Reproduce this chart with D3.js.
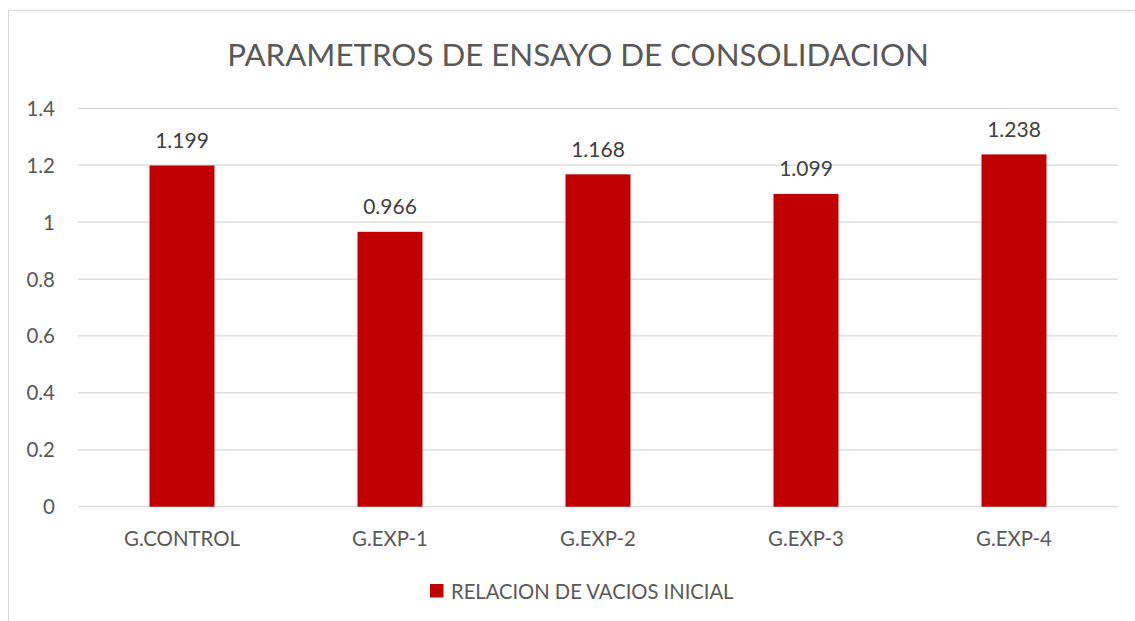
<!DOCTYPE html>
<html>
<head>
<meta charset="utf-8">
<script src="https://cdn.jsdelivr.net/npm/d3@7"></script>
<style>
  body { margin: 0; background: #fff; }
  text { font-family: Lato, "Open Sans", sans-serif; }
</style>
</head>
<body>
<svg id="chart" width="1135" height="621"></svg>
<script>
let categories = ['G.CONTROL', 'G.EXP-1', 'G.EXP-2', 'G.EXP-3', 'G.EXP-4'];
let values = [1.199, 0.966, 1.168, 1.099, 1.238];
let valueLabels = ['1.199', '0.966', '1.168', '1.099', '1.238'];
let yTicks = [0, 0.2, 0.4, 0.6, 0.8, 1, 1.2, 1.4];
let title = 'PARAMETROS DE ENSAYO DE CONSOLIDACION';
let seriesName = 'RELACION DE VACIOS INICIAL';

let svg = d3.select('#chart');
let plotLeft = 78, plotRight = 1118, plotTop = 108.3, plotBottom = 506.7;

// chart frame (runs off the right and bottom of the picture)
svg.append('rect').attr('x', 8.5).attr('y', 10.5).attr('width', 1140).attr('height', 630)
  .style('fill', '#fff').style('stroke', '#d9d9d9');

let x = d3.scaleBand().domain(categories).range([plotLeft, plotRight]).paddingInner(0.6875).paddingOuter(0.34375);
let y = d3.scaleLinear().domain([0, 1.4]).range([plotBottom, plotTop]);

// gridlines
svg.append('g').selectAll('line').data(yTicks).join('line')
  .attr('x1', plotLeft).attr('x2', plotRight)
  .attr('y1', d => y(d)).attr('y2', d => y(d))
  .style('stroke', '#d9d9d9').style('stroke-width', 1.3);

// y tick labels
svg.append('g').selectAll('text').data(yTicks).join('text')
  .attr('x', 55).attr('y', d => y(d) + 7.5)
  .attr('text-anchor', 'end')
  .style('font-size', '20.5px').style('fill', '#595959')
  .text(d => d);

// bars
svg.append('g').selectAll('rect').data(values).join('rect')
  .attr('x', (d, i) => x(categories[i]))
  .attr('y', d => y(d))
  .attr('width', x.bandwidth())
  .attr('height', d => plotBottom - y(d))
  .style('fill', '#c00000');

// data labels
svg.append('g').selectAll('text').data(values).join('text')
  .attr('x', (d, i) => x(categories[i]) + x.bandwidth() / 2)
  .attr('y', d => y(d) - 17.5)
  .attr('text-anchor', 'middle')
  .style('font-size', '21px').style('fill', '#404040')
  .text((d, i) => valueLabels[i]);

// category labels
svg.append('g').selectAll('text').data(categories).join('text')
  .attr('x', d => x(d) + x.bandwidth() / 2)
  .attr('y', 546)
  .attr('text-anchor', 'middle')
  .style('font-size', '20.4px').style('fill', '#595959')
  .text(d => d);

// title
svg.append('text').attr('x', 578).attr('y', 66)
  .attr('text-anchor', 'middle')
  .style('font-size', '31.3px').style('fill', '#595959')
  .text(title);

// legend
svg.append('rect').attr('x', 430).attr('y', 584).attr('width', 13.5).attr('height', 13.5).style('fill', '#c00000');
svg.append('text').attr('x', 451).attr('y', 599)
  .style('font-size', '20.2px').style('fill', '#595959')
  .text(seriesName);
</script>
</body>
</html>
